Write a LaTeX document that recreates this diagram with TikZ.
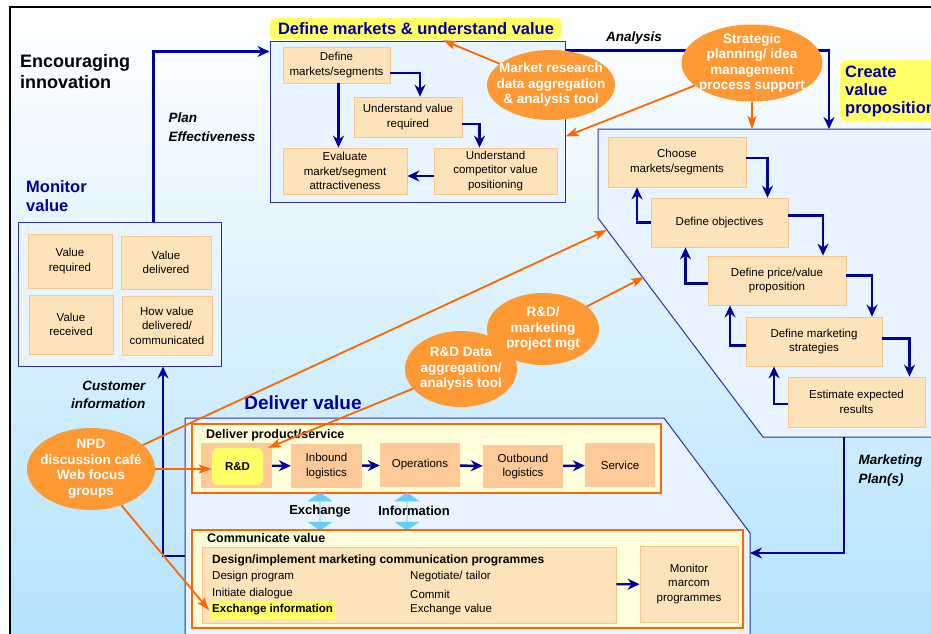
\documentclass[tikz,border=0pt]{standalone}
\usepackage{fontspec}
\setmainfont{Liberation Sans}
\usepackage{tikz}
\usetikzlibrary{shapes.geometric, shapes.arrows, arrows.meta, positioning}
\usetikzlibrary{calc}

\definecolor{navy}{HTML}{00009A}
\definecolor{frameblue}{HTML}{2F2FA8}
\definecolor{paleblue}{HTML}{E8F4FF}
\definecolor{bgblue}{HTML}{B3E3FD}
\definecolor{boxfill}{HTML}{FDE3BA}
\definecolor{boxline}{HTML}{FAC48C}
\definecolor{peach}{HTML}{FECB98}
\definecolor{hiyellow}{HTML}{FFFF66}
\definecolor{paleyellow}{HTML}{FFFFDC}
\definecolor{blobfill}{HTML}{FF9933}
\definecolor{blobline}{HTML}{FF6600}
\definecolor{xblue}{HTML}{66CCFF}

\begin{document}
\begin{tikzpicture}[x=1pt, y=-1pt,
	stepbox/.style={draw=boxline, fill=boxfill, line width=0.8pt, align=center, inner sep=1pt, font=\fontsize{11.5}{14.5}\selectfont},
	procbox/.style={fill=peach, align=center, inner sep=1pt, font=\fontsize{11.5}{14.5}\selectfont},
	areabox/.style={draw=frameblue, fill=paleblue, line width=1pt},
	subarea/.style={draw=blobline, fill=paleyellow, line width=1.2pt, inner sep=0pt},
	blob/.style={ellipse, fill=blobfill, inner sep=0pt},
	blobtext/.style={text=white, font=\bfseries\fontsize{13.5}{15.5}\selectfont, align=center},
	flow/.style={draw=navy, line width=2.4pt, -{Stealth[length=12pt,width=11pt,inset=4pt]}},
	feed/.style={draw=blobline, line width=1.8pt, -{Stealth[length=13pt,width=9pt,inset=3pt]}},
	swap/.style={double arrow, fill=xblue, rotate=90, minimum height=38, minimum width=25, double arrow head extend=5pt, double arrow tip angle=110, inner sep=0},
	heading/.style={text=navy, font=\bfseries\fontsize{16.5}{19}\selectfont, align=left},
	linklabel/.style={font=\bfseries\itshape\fontsize{13.5}{19}\selectfont, align=left},
	grouptitle/.style={font=\bfseries\fontsize{12.5}{15}\selectfont, anchor=west, inner sep=0pt},
	itemtext/.style={font=\fontsize{11.5}{14}\selectfont, anchor=west, inner sep=0pt}]
	\useasboundingbox (0,0) rectangle (931,633);
	\clip (0,0) rectangle (931,633);

	% background and frame
	\shade[top color=white, bottom color=bgblue] (10,7) rectangle (940,640);
	\draw[line width=2.5pt] (10,640) -- (10,7) -- (940,7);

	% the big areas
	\node[areabox, minimum width=295, minimum height=161, inner sep=0] (defbox) at (417.5,121.5) {};
	\node[areabox, minimum width=203, minimum height=144, inner sep=0] (mvbox) at (119.5,294) {};
	\draw[areabox] (598,129) -- (940,129) -- (940,437) -- (763,437) -- (598,218) -- cycle;
	\draw[areabox] (185,640) -- (185,418) -- (664,418) -- (750,533) -- (750,640) -- cycle;
	\coordinate (cvplan) at (829,129);
	\coordinate (cvbot) at (844,437);
	\coordinate (cvin1) at (607,230);
	\coordinate (cvin2) at (644,277);
	\coordinate (dvin) at (750,553);
	\coordinate (dvout) at (185,556);

	% headings
	\node[heading, fill=hiyellow, rounded corners=5pt, minimum width=292, minimum height=22, inner sep=0] (dmhead) at (416,29) {Define markets \& understand value};
	\node[heading, fill=hiyellow, rounded corners=6pt, anchor=north west, text width=110pt, inner xsep=5pt, inner ysep=3pt, minimum height=62, font=\bfseries\fontsize{16.5}{18}\selectfont] (cvhead) at (840,60) {Create\\value\\proposition};
	\node[heading, anchor=north west, inner sep=0] (mvhead) at (26,180) {Monitor\\value};
	\node[heading, font=\bfseries\fontsize{19}{22}\selectfont] (dvhead) at (303,403) {Deliver value};
	\node[font=\bfseries\fontsize{18}{21}\selectfont, align=left, anchor=north west, inner sep=0] (enc) at (20,54) {Encouraging\\innovation};

	\node[linklabel, anchor=west] (plan) at (165,127) {Plan\\Effectiveness};
	\node[linklabel] (ana) at (634,38) {Analysis};
	\node[linklabel, anchor=east, align=right, font=\bfseries\itshape\fontsize{13.5}{18}\selectfont] (cust) at (149,395) {Customer\\information};
	\node[linklabel, anchor=west] (mkt) at (855,470) {Marketing\\Plan(s)};

	% define markets & understand value
	\draw (336.5,65) node[stepbox, minimum width=107, minimum height=36] (dm) {Define\\markets/segments}
		(408,117) node[stepbox, minimum width=108, minimum height=40] (uv) {Understand value\\required}
		(345,171) node[stepbox, minimum width=124, minimum height=46] (ev) {Evaluate\\market/segment\\attractiveness}
		(495.5,171) node[stepbox, minimum width=123, minimum height=46] (uc) {Understand\\competitor value\\positioning};

	% create value proposition
	\draw (677,162) node[stepbox, minimum width=138, minimum height=50] (cm) {Choose\\markets/segments}
		(719.5,222.5) node[stepbox, minimum width=137, minimum height=49] (do) {Define objectives}
		(777,280.5) node[stepbox, minimum width=138, minimum height=49] (dp) {Define price/value\\proposition}
		(814,341.5) node[stepbox, minimum width=136, minimum height=49] (ds) {Define marketing\\strategies}
		(856.5,402) node[stepbox, minimum width=137, minimum height=50] (ee) {Estimate expected\\results};

	% monitor value
	\draw (70,261) node[stepbox, minimum width=84, minimum height=54] (vr) {Value\\required}
		(166,262.5) node[stepbox, minimum width=90, minimum height=53] (vd) {Value\\delivered}
		(71,324.5) node[stepbox, minimum width=84, minimum height=59] (vrc) {Value\\received}
		(167,325.5) node[stepbox, minimum width=90, minimum height=59] (hv) {How value\\delivered/\\communicated};

	% deliver product/service
	\node[subarea, minimum width=469, minimum height=69] (dps) at (426.5,458.5) {};
	\node[grouptitle] (dpst) at (206,435) {Deliver product/service};
	\draw (236.5,465.5) node[procbox, minimum width=71, minimum height=45] (rdback) {}
		(237.5,466.5) node[fill=hiyellow, rounded corners=6pt, minimum width=51, minimum height=37, inner sep=0, font=\bfseries\fontsize{11.5}{14}\selectfont] (rd) {R\&D}
		(326.5,466) node[procbox, minimum width=71, minimum height=44] (ib) {Inbound\\logistics}
		(420,465) node[procbox, minimum width=80, minimum height=44] (op) {Operations}
		(523,466.5) node[procbox, minimum width=80, minimum height=43] (ob) {Outbound\\logistics}
		(620,465) node[procbox, minimum width=70, minimum height=44] (sv) {Service};

	% exchange of information
	\node[swap] (xa1) at (320,511.5) {};
	\node[swap] (xa2) at (407,511.5) {};
	\node[font=\bfseries\fontsize{13}{15}\selectfont] (xl1) at (320,511) {Exchange};
	\node[font=\bfseries\fontsize{13}{15}\selectfont] (xl2) at (414,511) {Information};

	% communicate value
	\node[subarea, minimum width=551, minimum height=98] (cv) at (467.5,579) {};
	\node[grouptitle] (cvt) at (207,538) {Communicate value};
	\node[stepbox, minimum width=414, minimum height=76] (dsg) at (409,585) {};
	\node[grouptitle, font=\bfseries\fontsize{12}{14}\selectfont] (dsgt) at (212,560) {Design/implement marketing communication programmes};
	\node[itemtext] (i1) at (212,577) {Design program};
	\node[itemtext] (i2) at (212,594) {Initiate dialogue};
	\node[fill=hiyellow, rounded corners=3pt, anchor=west, minimum height=19, inner ysep=0, inner xsep=3pt, font=\bfseries\fontsize{11.5}{14}\selectfont] (exi) at (209,610) {Exchange information};
	\node[itemtext] (i4) at (410,577) {Negotiate/ tailor};
	\node[itemtext] (i5) at (410,594) {Commit};
	\node[itemtext] (i6) at (410,610) {Exchange value};
	\node[stepbox, minimum width=98, minimum height=76] (mm) at (689,584) {Monitor\\marcom\\programmes};

	% blue flows
	\draw[flow] ([yshift=-8]dm.east) -| ([xshift=12]uv.north);
	\draw[flow] ([xshift=2]dm.south) -- ([xshift=2]dm.south |- ev.north);
	\draw[flow] ([yshift=-7]uv.east) -| ([xshift=-16]uc.north);
	\draw[flow] ([yshift=-5]uc.west) -- ([yshift=-5]ev.east);

	\draw[flow] ([yshift=4]cm.east) -| ([xshift=48]do.north);
	\draw[flow] ([yshift=7]do.east) -| ([xshift=46]dp.north);
	\draw[flow] ([yshift=5]dp.east) -| ([xshift=58]ds.north);
	\draw[flow] ([yshift=3]ds.east) -| ([xshift=53]ee.north);
	\draw[flow] (do.west) -| ([xshift=-40]cm.south);
	\draw[flow] ([yshift=-3]dp.west) -| ([xshift=-34]do.south);
	\draw[flow] ([yshift=-4]ds.west) -| ([xshift=-47]dp.south);
	\draw[flow] ([yshift=-2]ee.west) -| ([xshift=-40]ds.south);

	\draw[flow] (rdback) -- (ib);
	\draw[flow] (ib) -- (op);
	\draw[flow] (op) -- (ob);
	\draw[flow] (ob) -- (sv);
	\draw[flow] (dsg) -- (mm);

	\draw[flow] ([xshift=34]mvbox.north) |- ([yshift=-11]defbox.north west);
	\draw[flow] ([yshift=-10]defbox.north east) -| (cvplan);
	\draw[flow] (cvbot) |- (dvin);
	\draw[flow] (dvout) -| ([xshift=43.5]mvbox.south);

	% tools
	\node[blob, minimum width=128, minimum height=70, label={[blobtext]center:Market research\\data aggregation\\\& analysis tool}] (mr) at (551,85) {};
	\node[blob, minimum width=141, minimum height=77, label={[blobtext]center:Strategic\\planning/ idea\\management\\process support}] (sp) at (752,63) {};
	\node[blob, minimum width=112, minimum height=72, label={[blobtext]center:R\&D/\\marketing\\project mgt}] (rdm) at (543,329) {};
	\node[blob, minimum width=112, minimum height=76, label={[blobtext]center:R\&D Data\\aggregation/\\analysis tool}] (rdd) at (461,369) {};
	\node[blob, minimum width=128, minimum height=82, label={[blobtext]center:NPD\\discussion café\\Web focus\\groups}] (npd) at (91,469) {};

	\draw[feed] (mr) -- ([xshift=27]dmhead.south);
	\draw[feed] (sp) -- ([yshift=-15]defbox.east);
	\draw[feed] (sp.south) -- (sp.south |- cvplan);
	\draw[feed] (npd) -- (cvin1);
	\draw[feed] (npd.east) -- (npd.east -| rd.west);
	\draw[feed] (npd) -- (exi.west);
	\draw[feed] (rdd) -- ([xshift=5]rd.north east);
	\draw[feed] (rdm) -- (cvin2);
\end{tikzpicture}
\end{document}
